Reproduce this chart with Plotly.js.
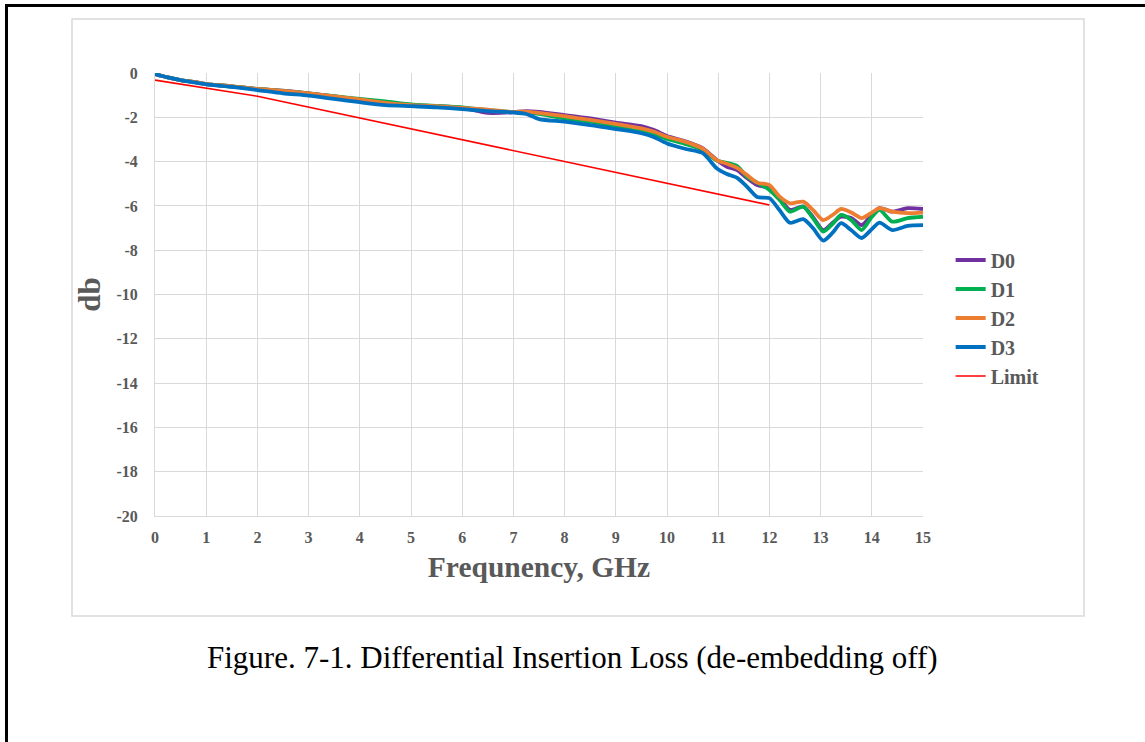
<!DOCTYPE html>
<html>
<head>
<meta charset="utf-8">
<script src="https://cdn.plot.ly/plotly-3.0.1.min.js"></script>
<style>
  html, body { margin: 0; padding: 0; background: #fff; }
  #wrap { position: relative; width: 1145px; height: 742px; overflow: hidden; }
  #frame { position: absolute; left: 5px; top: 4px; width: 1200px; height: 800px;
           border-left: 3px solid #000; border-top: 3px solid #000; pointer-events: none; z-index: 5; }
  #chart { position: absolute; left: 0; top: 0; width: 1145px; height: 742px; }
</style>
</head>
<body>
<div id="wrap">
  <div id="chart"></div>
  <div id="frame"></div>
</div>
<script>
const freq = [0,0.25,0.5,0.75,1,1.5,2,2.5,3,3.5,4,4.5,5,5.5,6,6.5,7,7.25,7.5,8,8.5,9,9.5,9.75,10,10.35,10.7,10.97,11.17,11.37,11.56,11.76,12,12.2,12.4,12.66,12.85,13.05,13.24,13.4,13.6,13.8,14.0,14.15,14.4,14.7,15];

const d0 = [-0.05,-0.2,-0.32,-0.4,-0.5,-0.6,-0.72,-0.8,-0.92,-1.06,-1.2,-1.32,-1.45,-1.5,-1.57,-1.8,-1.77,-1.72,-1.76,-1.9,-2.05,-2.24,-2.4,-2.58,-2.84,-3.08,-3.4,-3.93,-4.23,-4.38,-4.74,-5.06,-5.2,-5.65,-6.18,-6.03,-6.5,-7.09,-6.75,-6.49,-6.55,-6.87,-6.4,-6.1,-6.26,-6.1,-6.14];
const d1 = [-0.05,-0.2,-0.32,-0.4,-0.5,-0.6,-0.72,-0.81,-0.92,-1.05,-1.17,-1.28,-1.42,-1.48,-1.55,-1.68,-1.77,-1.78,-1.85,-2.05,-2.2,-2.4,-2.57,-2.75,-2.98,-3.2,-3.47,-3.95,-4.05,-4.2,-4.68,-4.95,-5.28,-5.73,-6.26,-6.03,-6.55,-7.16,-6.8,-6.41,-6.64,-7.09,-6.5,-6.18,-6.71,-6.55,-6.49];
const d2 = [-0.05,-0.2,-0.32,-0.4,-0.5,-0.6,-0.72,-0.81,-0.92,-1.06,-1.19,-1.35,-1.45,-1.5,-1.58,-1.65,-1.76,-1.74,-1.8,-1.95,-2.12,-2.3,-2.5,-2.65,-2.88,-3.1,-3.42,-3.93,-4.1,-4.28,-4.6,-4.95,-5.06,-5.58,-5.88,-5.81,-6.18,-6.64,-6.4,-6.14,-6.3,-6.55,-6.3,-6.1,-6.26,-6.33,-6.3];
const d3 = [-0.05,-0.2,-0.32,-0.42,-0.51,-0.63,-0.77,-0.92,-1.02,-1.17,-1.32,-1.45,-1.5,-1.55,-1.63,-1.72,-1.78,-1.85,-2.08,-2.2,-2.35,-2.53,-2.72,-2.9,-3.18,-3.42,-3.62,-4.3,-4.56,-4.74,-5.13,-5.6,-5.65,-6.2,-6.76,-6.6,-7.0,-7.57,-7.2,-6.78,-7.1,-7.45,-7.05,-6.76,-7.09,-6.9,-6.87];

const limitFreq = [0, 2, 12];
const limitDb = [-0.32, -1.05, -5.96];

const seriesNames = ["D0", "D1", "D2", "D3", "Limit"];
const seriesColors = ["#7030A0", "#00B050", "#ED7D31", "#0070C0", "#FF0000"];

const xTicks = [0,1,2,3,4,5,6,7,8,9,10,11,12,13,14,15];
const yTicks = [0,-2,-4,-6,-8,-10,-12,-14,-16,-18,-20];

const xTitle = "Frequnency, GHz";
const yTitle = "db";
const caption = "Figure. 7-1. Differential Insertion Loss (de-embedding off)";

const serif = "'Liberation Serif', 'Times New Roman', Times, serif";

const ys = [d0, d1, d2, d3];
const traces = ys.map((y, i) => ({
  x: freq, y: y, type: "scatter", mode: "lines", name: seriesNames[i], legendgroup: "g" + i,
  line: { color: seriesColors[i], width: 3.8, shape: "spline", smoothing: 0.7 }
}));
traces.push({
  x: limitFreq, y: limitDb, type: "scatter", mode: "lines", name: seriesNames[4], legendgroup: "g4",
  line: { color: seriesColors[4], width: 1.6 }
});

const gray = "#595959";
const tickFont = { family: serif, size: 16, color: gray, weight: "bold" };

const layout = {
  width: 1145, height: 742,
  margin: { l: 155, r: 222, t: 73, b: 226 },
  paper_bgcolor: "#ffffff", plot_bgcolor: "#ffffff",
  showlegend: true,
  legend: {
    x: 1.036, y: (516 - 318) / 443, xanchor: "left", yanchor: "middle",
    font: { family: serif, size: 20, color: gray, weight: "bold" },
    itemwidth: 30, tracegroupgap: 0, bgcolor: "rgba(0,0,0,0)"
  },
  xaxis: {
    range: [0, 15], tickvals: xTicks, ticktext: xTicks.map(String),
    showgrid: true, gridcolor: "#d9d9d9", gridwidth: 1,
    showline: true, linecolor: "#d9d9d9", linewidth: 1,
    zeroline: false, ticks: "", tickfont: tickFont, ticklabelstandoff: 7,
    title: { text: xTitle, standoff: 11,
      font: { family: serif, size: 29.5, color: gray, weight: "bold" } },
    fixedrange: true
  },
  yaxis: {
    range: [-20, 0], tickvals: yTicks, ticktext: yTicks.map(String),
    showgrid: true, gridcolor: "#d9d9d9", gridwidth: 1,
    showline: true, linecolor: "#d9d9d9", linewidth: 1,
    zeroline: false, ticks: "", tickfont: tickFont, ticklabelstandoff: 13,
    title: { text: yTitle, standoff: 6,
      font: { family: serif, size: 31, color: gray, weight: "bold" } },
    fixedrange: true
  },
  shapes: [{
    type: "rect", xref: "paper", yref: "paper",
    x0: (72 - 155) / 768, x1: (1084 - 155) / 768,
    y0: (516 - 616) / 443, y1: (516 - 19) / 443,
    line: { color: "#d9d9d9", width: 1.5 }, fillcolor: "rgba(0,0,0,0)", layer: "below"
  }],
  annotations: [{
    text: caption, xref: "paper", yref: "paper",
    x: (572 - 155) / 768, y: (516 - 657) / 443, xanchor: "center", yanchor: "middle",
    showarrow: false,
    font: { family: serif, size: 31, color: "#000000" }
  }]
};

Plotly.newPlot("chart", traces, layout, { displayModeBar: false, staticPlot: true });
</script>
</body>
</html>
